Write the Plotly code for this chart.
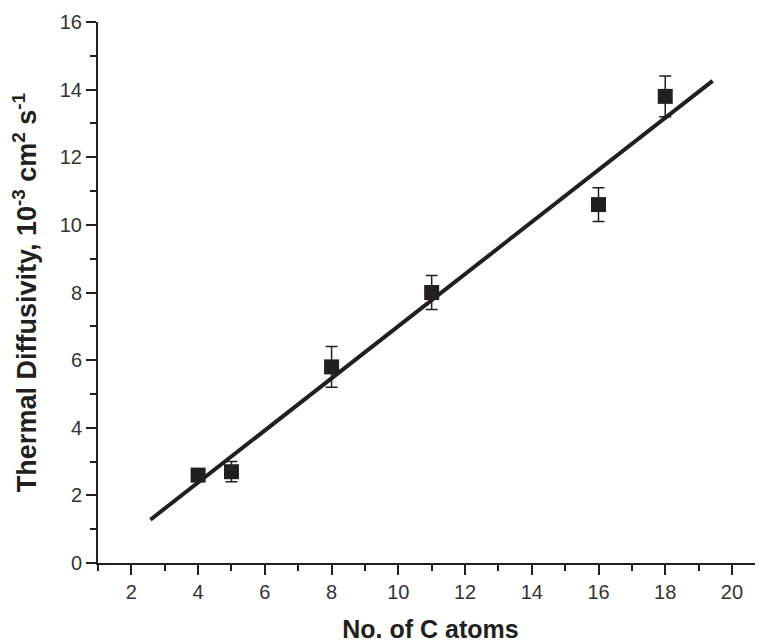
import plotly.graph_objects as go

# Data
c_atoms = [4, 5, 8, 11, 16, 18]
diffusivity = [2.6, 2.7, 5.8, 8.0, 10.6, 13.8]
diffusivity_err = [0.15, 0.3, 0.6, 0.5, 0.5, 0.6]

fit_x = [2.57, 19.42]
fit_y = [1.28, 14.26]

x_ticks = [2, 4, 6, 8, 10, 12, 14, 16, 18, 20]
y_ticks = [0, 2, 4, 6, 8, 10, 12, 14, 16]

ink = "#231f20"

fig = go.Figure()
fig.add_trace(go.Scatter(
    x=fit_x, y=fit_y, mode="lines",
    line=dict(color=ink, width=4), showlegend=False, hoverinfo="skip"))
fig.add_trace(go.Scatter(
    x=c_atoms, y=diffusivity, mode="markers",
    marker=dict(symbol="square", size=15, color=ink),
    error_y=dict(type="data", array=diffusivity_err, visible=True,
                 color=ink, thickness=1.5, width=6),
    showlegend=False))

font_family = "Liberation Sans, Arial, sans-serif"
# page body has an 8px margin, so the figure is sized 8px smaller
fig.update_layout(
    width=755, height=635,
    margin=dict(l=90, r=0, t=14, b=80),
    paper_bgcolor="white", plot_bgcolor="white",
    font=dict(family=font_family, color="#333333"),
    xaxis=dict(
        range=[1, 20.93], tickvals=x_ticks, ticks="outside", ticklen=10,
        tickwidth=2, tickcolor=ink, showline=True, linewidth=2, linecolor=ink,
        showgrid=False, zeroline=False, mirror=False,
        tickfont=dict(size=20, color="#333333"),
        minor=dict(dtick=1, tick0=1, ticks="outside", ticklen=6, tickwidth=2, tickcolor=ink),
        title=dict(text="<b>No. of C atoms</b>", font=dict(size=25, color=ink), standoff=18),
    ),
    yaxis=dict(
        range=[0, 16], tickvals=y_ticks, ticks="outside", ticklen=10,
        tickwidth=2, tickcolor=ink, showline=True, linewidth=2, linecolor=ink,
        showgrid=False, zeroline=False, mirror=False,
        tickfont=dict(size=20, color="#333333"),
        minor=dict(dtick=1, tick0=1, ticks="outside", ticklen=6, tickwidth=2, tickcolor=ink),
        title=dict(text="<b>Thermal Diffusivity, 10<sup>-3</sup> cm<sup>2</sup> s<sup>-1</sup></b>",
                   font=dict(size=27, color=ink), standoff=17),
    ),
)

fig.write_html("out.html")
